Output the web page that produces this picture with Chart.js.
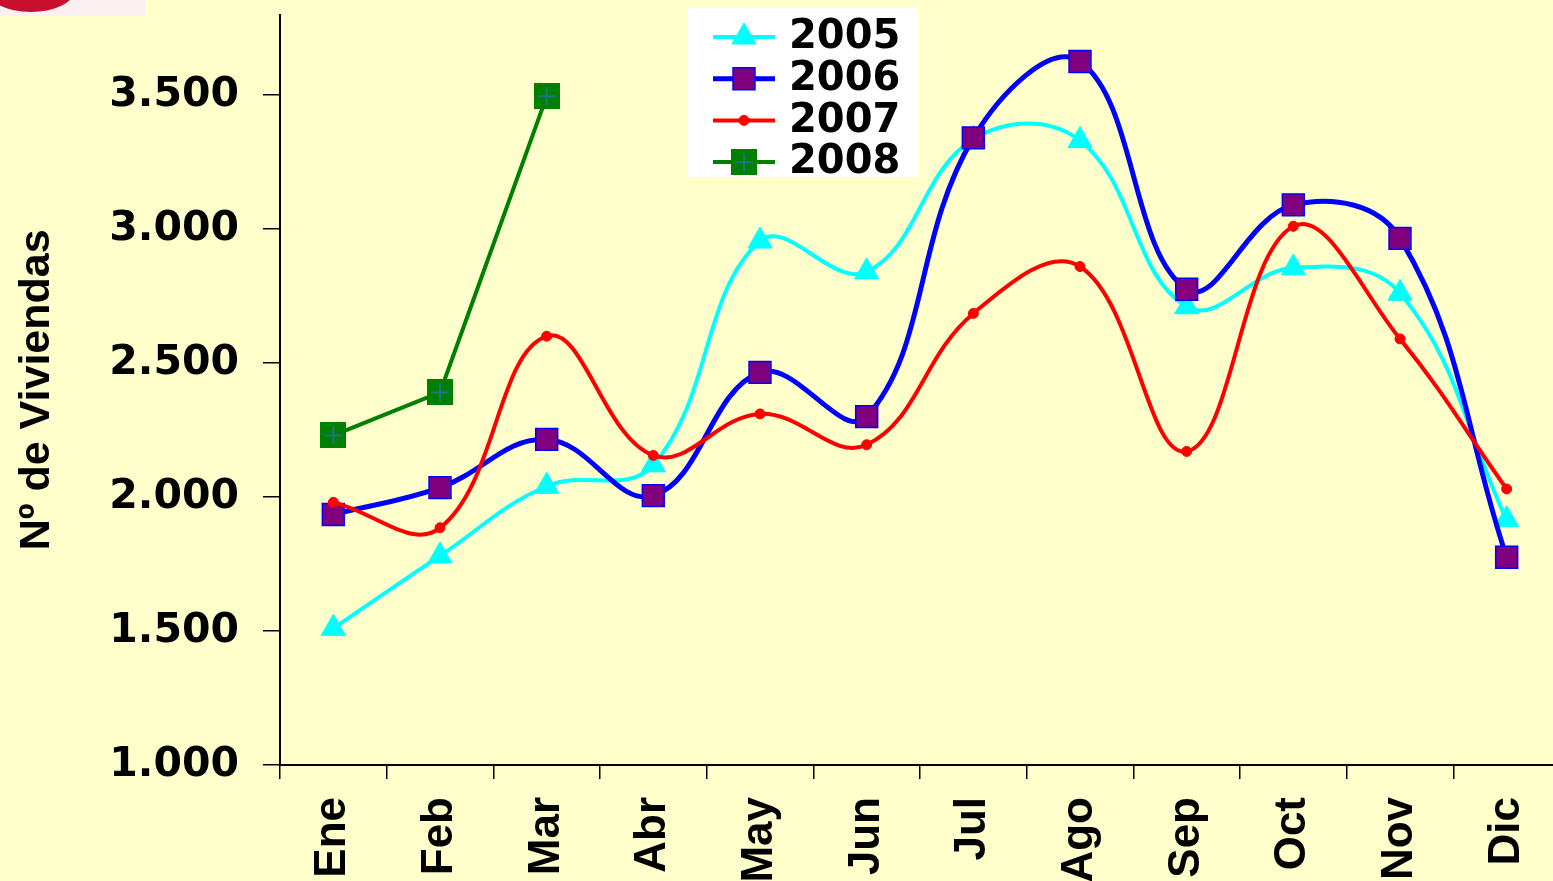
<!DOCTYPE html>
<html>
<head>
<meta charset="utf-8">
<title>Nº de Viviendas</title>
<script src="https://cdn.jsdelivr.net/npm/chart.js@4.4.1/dist/chart.umd.min.js"></script>
<style>
    html, body { margin: 0; padding: 0; background: #FFFFCC; overflow: hidden; }
    #wrap { position: relative; width: 1553px; height: 881px; overflow: hidden; }
    #logo { position: absolute; left: 0; top: 0; width: 145px; height: 16px; background: #FCEFF2; overflow: hidden; z-index: 2; }
    #logo div { position: absolute; left: -14px; top: -36px; width: 90px; height: 48px; border-radius: 50%; background: #C8102E; }
    #chart { position: absolute; left: 0; top: 0; }
</style>
</head>
<body>
<div id="wrap">
    <div id="logo"><div></div></div>
    <canvas id="chart" width="1560" height="881"></canvas>
</div>
<script>
const months = ['Ene', 'Feb', 'Mar', 'Abr', 'May', 'Jun', 'Jul', 'Ago', 'Sep', 'Oct', 'Nov', 'Dic'];
const years = ['2005', '2006', '2007', '2008'];

const v2005 = [1510, 1780, 2040, 2120, 2955, 2840, 3335, 3330, 2710, 2855, 2760, 1915];
const v2006 = [1935, 2035, 2215, 2005, 2465, 2300, 3340, 3625, 2775, 3090, 2965, 1775];
const v2007 = [1980, 1885, 2600, 2155, 2310, 2195, 2685, 2860, 2170, 3010, 2590, 2030];
const v2008 = [2230, 2390, 3495];

const yTicks = [1000, 1500, 2000, 2500, 3000, 3500];
const yMin = 1000;
const yMax = 3800;

// square with a thin cross, used for the 2008 markers
function crossSquare() {
    const c = document.createElement('canvas');
    c.width = 26;
    c.height = 26;
    const g = c.getContext('2d');
    g.fillStyle = '#008000';
    g.fillRect(0, 0, 26, 26);
    g.strokeStyle = '#1F7384';
    g.lineWidth = 2;
    g.beginPath();
    g.moveTo(4, 13); g.lineTo(22, 13);
    g.moveTo(13, 4); g.lineTo(13, 22);
    g.stroke();
    return c;
}

function fmt(v) {
    return String(v).replace(/\B(?=(\d{3})+(?!\d))/g, '.');
}

const legendBox = {
    id: 'legendBox',
    afterDraw(chart) {
        const ctx = chart.ctx;
        ctx.save();
        ctx.fillStyle = '#FFFFFF';
        ctx.fillRect(688, 8, 230, 169);
        chart.data.datasets.forEach(function(ds, i) {
            const y = 37 + i * 41.7;
            ctx.strokeStyle = ds.borderColor;
            ctx.lineWidth = ds.borderWidth;
            ctx.beginPath();
            ctx.moveTo(713, y);
            ctx.lineTo(775, y);
            ctx.stroke();
            ctx.fillStyle = ds.pointBackgroundColor;
            ctx.strokeStyle = ds.pointBorderColor;
            ctx.lineWidth = ds.pointBorderWidth;
            Chart.helpers.drawPoint(ctx, {
                pointStyle: ds.pointStyle,
                radius: ds.pointRadius,
                rotation: 0,
                borderWidth: ds.pointBorderWidth
            }, 744, y);
            ctx.fillStyle = '#000000';
            ctx.font = 'bold 40px "DejaVu Sans"';
            ctx.textBaseline = 'middle';
            ctx.textAlign = 'left';
            ctx.fillText(ds.label, 789, y + 1);
        });
        ctx.restore();
    }
};

const ctx = document.getElementById('chart').getContext('2d');
new Chart(ctx, {
    type: 'line',
    data: {
        labels: months,
        datasets: [{
            label: years[0],
            data: v2005,
            borderColor: '#00FFFF',
            borderWidth: 4,
            tension: 0.4,
            pointStyle: 'triangle',
            pointRadius: 14,
            pointBackgroundColor: '#00FFFF',
            pointBorderColor: '#00FFFF',
            pointBorderWidth: 1,
            order: 3
        }, {
            label: years[1],
            data: v2006,
            borderColor: '#0000FF',
            borderWidth: 5,
            tension: 0.4,
            pointStyle: 'rect',
            pointRadius: 15.5,
            pointBackgroundColor: '#800080',
            pointBorderColor: '#0000FF',
            pointBorderWidth: 1.5,
            order: 2
        }, {
            label: years[2],
            data: v2007,
            borderColor: '#FF0000',
            borderWidth: 4,
            tension: 0.4,
            pointStyle: 'circle',
            pointRadius: 5,
            pointBackgroundColor: '#FF0000',
            pointBorderColor: '#FF0000',
            pointBorderWidth: 1,
            order: 1
        }, {
            label: years[3],
            data: v2008,
            borderColor: '#008000',
            borderWidth: 4,
            tension: 0,
            pointStyle: crossSquare(),
            pointRadius: 13,
            pointBackgroundColor: '#008000',
            pointBorderColor: '#008000',
            pointBorderWidth: 0,
            order: 0
        }]
    },
    options: {
        responsive: false,
        animation: false,
        clip: false,
        layout: { autoPadding: false, padding: { top: 14.6, left: 0, right: 0, bottom: 0 } },
        plugins: {
            legend: { display: false },
            tooltip: { enabled: false }
        },
        elements: {
            line: { borderCapStyle: 'round', borderJoinStyle: 'round' }
        },
        scales: {
            x: {
                offset: true,
                grid: {
                    offset: true,
                    drawOnChartArea: false,
                    tickLength: 14,
                    color: '#000000',
                    lineWidth: 1.5
                },
                border: { color: '#000000', width: 2 },
                ticks: {
                    autoSkip: false,
                    minRotation: 90,
                    maxRotation: 90,
                    padding: 18,
                    color: '#000000',
                    font: { family: '"Liberation Sans", Arial', weight: 'bold', size: 44 }
                },
                afterFit(scale) {
                    scale.height = 116;
                    scale.paddingLeft = 0;
                    scale.paddingRight = 0;
                }
            },
            y: {
                min: yMin,
                max: yMax,
                afterBuildTicks(scale) {
                    scale.ticks = yTicks.map(v => ({ value: v }));
                },
                grid: {
                    drawOnChartArea: false,
                    tickLength: 17,
                    color: '#000000',
                    lineWidth: 1.5
                },
                border: { color: '#000000', width: 2 },
                ticks: {
                    padding: 24,
                    color: '#000000',
                    font: { family: '"DejaVu Sans", Verdana', weight: 'bold', size: 41 },
                    callback: v => fmt(v)
                },
                title: {
                    display: true,
                    text: 'Nº de Viviendas',
                    color: '#000000',
                    font: { family: '"Liberation Sans", Arial', weight: 'bold', size: 43 },
                    padding: { top: 11, bottom: 0 }
                },
                afterFit(scale) {
                    scale.width = 280;
                    scale.paddingTop = 0;
                    scale.paddingBottom = 0;
                }
            }
        }
    },
    plugins: [legendBox]
});
</script>
</body>
</html>
